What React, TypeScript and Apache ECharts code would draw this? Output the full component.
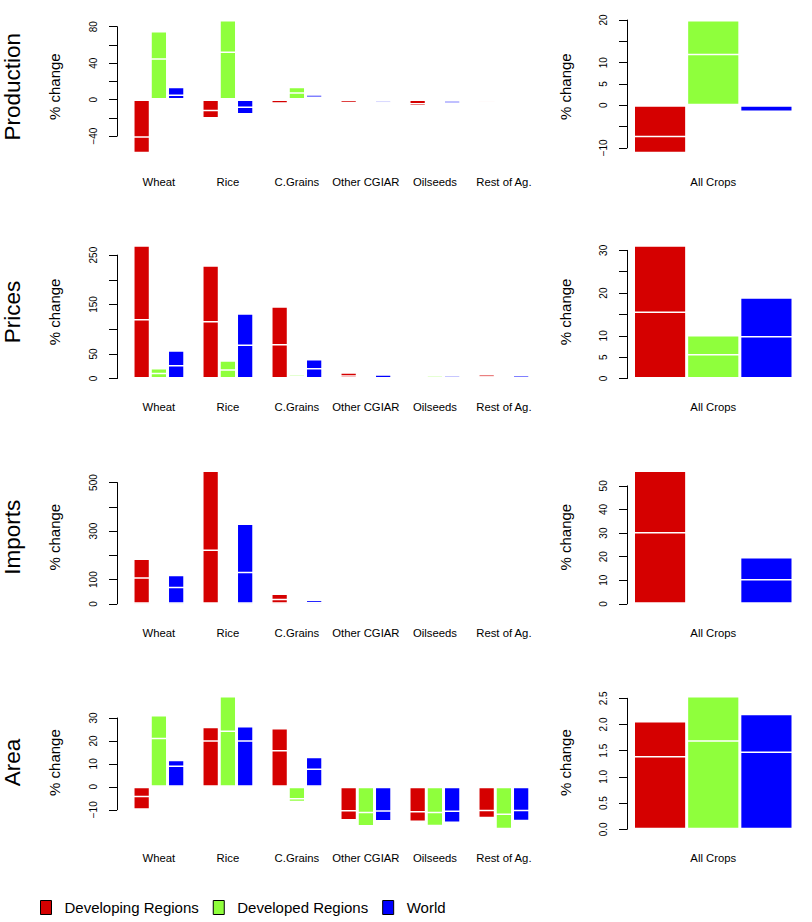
import React, { useEffect, useRef } from 'react';
import * as echarts from 'echarts';

// ---------- data ----------
const cropCategories = ['Wheat', 'Rice', 'C.Grains', 'Other CGIAR', 'Oilseeds', 'Rest of Ag.'];
const allCropsCategory = ['All Crops'];
const regionNames = ['Developing Regions', 'Developed Regions', 'World'];
const regionColors = ['#d50000', '#8fff3c', '#0000ff'];
const rowTitles = ['Production', 'Prices', 'Imports', 'Area'];

// bar = full bar value, line = value of the white line drawn inside the bar
const productionDevelopingBar = [-59, -20.7, -4.5, -5.5, -7.5, -2.5];
const productionDevelopingLine = [-41.8, -12.7, -0.8, -4, -5.5, -1.5];
const productionDevelopedBar = [75.3, 87.3, 14.2, 0, 0, 0];
const productionDevelopedLine = [45.5, 52.7, 8, 0, 0, 0];
const productionWorldBar = [14.2, -16.4, 5.8, -3.5, -5.5, -1.5];
const productionWorldLine = [5.5, -9.1, 3.3, -2, -3.5, -1];
const productionAllBar = [-11.3, 20.0, -1.8];
const productionAllLine = [-7.5, 12.1, -1.6];

const pricesDevelopingBar = [270, 229.7, 146.6, 12.8, 4.5, 9.3];
const pricesDevelopingLine = [120.8, 116.8, 70.2, 6.7, 2.5, 5];
const pricesDevelopedBar = [21.5, 37.1, 8.7, 0, 6.5, 5.5];
const pricesDevelopedLine = [12, 18.9, 5.3, 0, 3, 2.5];
const pricesWorldBar = [57.4, 132.4, 39.7, 8.7, 6.5, 7];
const pricesWorldLine = [27.6, 68.9, 21.5, 3, 3, 3];
const pricesAllBar = [31.2, 10.2, 19.0];
const pricesAllLine = [15.7, 5.75, 9.96];

const importsDevelopingBar = [186.5, 549.5, 42.7, 0, 0, 2];
const importsDevelopingLine = [110, 223.8, 20.7, 0, 0, 1];
const importsDevelopedBar = [0, 0, 0, 0, 0, 0];
const importsDevelopedLine = [0, 0, 0, 0, 0, 0];
const importsWorldBar = [120, 331.5, 17.8, 0, 0, 0];
const importsWorldLine = [70.5, 132.6, 8.3, 0, 0, 0];
const importsAllBar = [56.5, 0, 19.9];
const importsAllLine = [30.5, 0, 10.5];

const areaDevelopingBar = [-10.0, 26.2, 25.6, -14.7, -15.3, -13.7];
const areaDevelopingLine = [-4.5, 20.3, 16, -10.8, -11.2, -10.6];
const areaDevelopedBar = [31.3, 39.6, -6.7, -17.3, -17.2, -18.5];
const areaDevelopedLine = [21.4, 24.5, -5.5, -11.5, -11.5, -12.3];
const areaWorldBar = [11.8, 26.5, 13.1, -15.1, -15.8, -15];
const areaWorldLine = [9.3, 20.3, 8, -10.9, -11, -10.6];
const areaAllBar = [2.066, 2.545, 2.206];
const areaAllLine = [1.397, 1.697, 1.486];

// axis ticks: [min, max, step] and which ticks carry a label
const productionCropTicks = [-40, 80, 20];
const productionCropLabels = [-40, 0, 40, 80];
const productionAllTicks = [-10, 20, 5];
const productionAllLabels = [-10, 0, 5, 10, 20];
const pricesCropTicks = [0, 250, 50];
const pricesCropLabels = [0, 50, 150, 250];
const pricesAllTicks = [0, 30, 5];
const pricesAllLabels = [0, 5, 10, 20, 30];
const importsCropTicks = [0, 500, 100];
const importsCropLabels = [0, 100, 300, 500];
const importsAllTicks = [0, 50, 10];
const importsAllLabels = [0, 10, 20, 30, 40, 50];
const areaCropTicks = [-10, 30, 10];
const areaCropLabels = [-10, 0, 10, 20, 30];
const areaAllTicks = [0, 2.5, 0.5];
const areaAllLabels = [0, 0.5, 1, 1.5, 2, 2.5];

// ---------- layout ----------
const FONT = "'Liberation Sans', Arial, Helvetica, sans-serif";
const ROW_TOP = [14.7, 239.9, 465.2, 690.6];
const PLOT_H = 144;
const LEFT = { left: 124.4, width: 414, axisX: 117, nameGap: 62, gap: '25%' };
const RIGHT = { left: 633.5, width: 159.5, axisX: 627, nameGap: 61, gap: '0%' };

type Panel = {
  row: number;
  right: boolean;
  cats: string[];
  bars: number[][];
  lines: number[][];
  ticks: number[];
  labels: number[];
  decimals: number;
};

const panels: Panel[] = [
  { row: 0, right: false, cats: cropCategories, bars: [productionDevelopingBar, productionDevelopedBar, productionWorldBar], lines: [productionDevelopingLine, productionDevelopedLine, productionWorldLine], ticks: productionCropTicks, labels: productionCropLabels, decimals: 0 },
  { row: 0, right: true, cats: allCropsCategory, bars: [[productionAllBar[0]], [productionAllBar[1]], [productionAllBar[2]]], lines: [[productionAllLine[0]], [productionAllLine[1]], [productionAllLine[2]]], ticks: productionAllTicks, labels: productionAllLabels, decimals: 0 },
  { row: 1, right: false, cats: cropCategories, bars: [pricesDevelopingBar, pricesDevelopedBar, pricesWorldBar], lines: [pricesDevelopingLine, pricesDevelopedLine, pricesWorldLine], ticks: pricesCropTicks, labels: pricesCropLabels, decimals: 0 },
  { row: 1, right: true, cats: allCropsCategory, bars: [[pricesAllBar[0]], [pricesAllBar[1]], [pricesAllBar[2]]], lines: [[pricesAllLine[0]], [pricesAllLine[1]], [pricesAllLine[2]]], ticks: pricesAllTicks, labels: pricesAllLabels, decimals: 0 },
  { row: 2, right: false, cats: cropCategories, bars: [importsDevelopingBar, importsDevelopedBar, importsWorldBar], lines: [importsDevelopingLine, importsDevelopedLine, importsWorldLine], ticks: importsCropTicks, labels: importsCropLabels, decimals: 0 },
  { row: 2, right: true, cats: allCropsCategory, bars: [[importsAllBar[0]], [importsAllBar[1]], [importsAllBar[2]]], lines: [[importsAllLine[0]], [importsAllLine[1]], [importsAllLine[2]]], ticks: importsAllTicks, labels: importsAllLabels, decimals: 0 },
  { row: 3, right: false, cats: cropCategories, bars: [areaDevelopingBar, areaDevelopedBar, areaWorldBar], lines: [areaDevelopingLine, areaDevelopedLine, areaWorldLine], ticks: areaCropTicks, labels: areaCropLabels, decimals: 0 },
  { row: 3, right: true, cats: allCropsCategory, bars: [[areaAllBar[0]], [areaAllBar[1]], [areaAllBar[2]]], lines: [[areaAllLine[0]], [areaAllLine[1]], [areaAllLine[2]]], ticks: areaAllTicks, labels: areaAllLabels, decimals: 1 },
];

function fmtTick(v: number, decimals: number): string {
  const s = Math.abs(v).toFixed(decimals);
  return v < 0 ? '\u2212' + s : s;
}

function buildOption() {
  const grid: any[] = [];
  const xAxis: any[] = [];
  const yAxis: any[] = [];
  const series: any[] = [];

  panels.forEach((p) => {
    const all = [0, ...p.bars.flat(), ...p.lines.flat()];
    const lo = Math.min(...all);
    const hi = Math.max(...all);
    const ext = (hi - lo) * 0.04;
    const yMin = lo - ext;
    const yMax = hi + ext;
    const L = p.right ? RIGHT : LEFT;
    const top = ROW_TOP[p.row];
    const pxPerUnit = PLOT_H / (yMax - yMin);
    const [tMin, tMax, tStep] = p.ticks;

    const gi = grid.length;
    grid.push({ left: L.left, width: L.width, top, height: PLOT_H });
    grid.push({
      left: L.axisX,
      width: 1,
      top: top + (yMax - tMax) * pxPerUnit,
      height: (tMax - tMin) * pxPerUnit,
    });

    const xa = xAxis.length;
    xAxis.push({
      gridIndex: gi,
      type: 'category',
      data: p.cats,
      position: 'bottom',
      axisLine: { show: false, onZero: false },
      axisTick: { show: false },
      axisLabel: { interval: 0, margin: 18, fontSize: 11.3, color: '#000', fontFamily: FONT },
      splitLine: { show: false },
    });
    xAxis.push({
      gridIndex: gi,
      type: 'category',
      data: p.cats,
      position: 'bottom',
      show: false,
      axisLine: { onZero: false },
    });
    xAxis.push({ gridIndex: gi + 1, type: 'value', show: false });

    const ya = yAxis.length;
    yAxis.push({
      gridIndex: gi,
      type: 'value',
      min: yMin,
      max: yMax,
      axisLine: { show: false },
      axisTick: { show: false },
      axisLabel: { show: false },
      splitLine: { show: false },
      name: '% change',
      nameLocation: 'middle',
      nameGap: L.nameGap,
      nameTextStyle: { fontSize: 15, color: '#000', fontFamily: FONT },
    });
    yAxis.push({
      gridIndex: gi + 1,
      type: 'value',
      min: tMin,
      max: tMax,
      interval: tStep,
      axisLine: { show: true, lineStyle: { color: '#000', width: 1 } },
      axisTick: { show: true, length: 8, lineStyle: { color: '#000', width: 1 } },
      axisLabel: {
        rotate: 90,
        margin: 19,
        fontSize: 10,
        color: '#000',
        fontFamily: FONT,
        formatter: (v: number) =>
          p.labels.some((l) => Math.abs(l - v) < 1e-9) ? fmtTick(v, p.decimals) : '',
      },
      splitLine: { show: false },
    });

    p.bars.forEach((d, r) => {
      series.push({
        type: 'bar',
        name: regionNames[r],
        xAxisIndex: xa,
        yAxisIndex: ya,
        data: d,
        barGap: '0%',
        barCategoryGap: L.gap,
        itemStyle: { color: regionColors[r], borderColor: '#ffffff', borderWidth: 1.5 },
        emphasis: { disabled: true },
        z: 2,
      });
    });
    p.lines.forEach((d, r) => {
      series.push({
        type: 'bar',
        name: regionNames[r],
        xAxisIndex: xa + 1,
        yAxisIndex: ya,
        data: d,
        barGap: '0%',
        barCategoryGap: L.gap,
        itemStyle: { color: regionColors[r], borderColor: '#ffffff', borderWidth: 1.5 },
        emphasis: { disabled: true },
        z: 3,
      });
    });
  });

  const graphic = rowTitles.map((t, i) => ({
    type: 'text',
    x: 12.5,
    y: ROW_TOP[i] + PLOT_H / 2,
    rotation: Math.PI / 2,
    style: {
      text: t,
      font: `22.5px ${FONT}`,
      fill: '#000',
      textAlign: 'center',
      textVerticalAlign: 'middle',
    },
  }));

  return {
    animation: false,
    backgroundColor: '#ffffff',
    grid,
    xAxis,
    yAxis,
    series,
    graphic,
    legend: {
      data: regionNames,
      left: 40,
      top: 900,
      padding: 0,
      icon: 'rect',
      itemWidth: 11,
      itemHeight: 14,
      itemGap: 14,
      itemStyle: { borderColor: '#000', borderWidth: 1 },
      textStyle: {
        fontSize: 15,
        color: '#000',
        fontFamily: FONT,
        padding: [0, 0, 0, 8],
      },
    },
  };
}

export default function App() {
  const ref = useRef<HTMLDivElement>(null);
  useEffect(() => {
    if (!ref.current) return;
    const chart = echarts.init(ref.current, undefined, { renderer: 'svg' });
    chart.setOption(buildOption() as any);
    return () => chart.dispose();
  }, []);
  return (
    <div
      ref={ref}
      style={{ position: 'absolute', left: 0, top: 0, width: 812, height: 922, background: '#fff' }}
    />
  );
}
